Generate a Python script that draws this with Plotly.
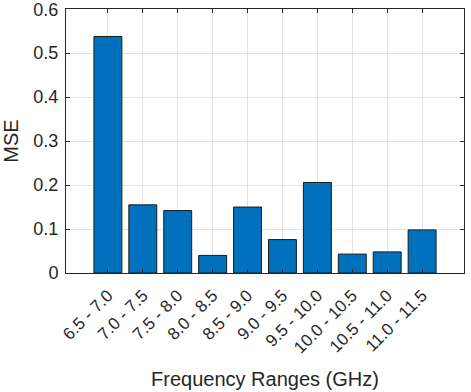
import plotly.graph_objects as go

categories = ["6.5 - 7.0", "7.0 - 7.5", "7.5 - 8.0", "8.0 - 8.5", "8.5 - 9.0",
              "9.0 - 9.5", "9.5 - 10.0", "10.0 - 10.5", "10.5 - 11.0", "11.0 - 11.5"]
mse = [0.538, 0.155, 0.142, 0.040, 0.150, 0.076, 0.206, 0.043, 0.048, 0.098]
y_ticks = [0, 0.1, 0.2, 0.3, 0.4, 0.5, 0.6]
y_ticklabels = ["0", "0.1", "0.2", "0.3", "0.4", "0.5", "0.6"]

fig = go.Figure(go.Bar(
    x=categories, y=mse, width=0.8,
    marker=dict(color="#0072BD", line=dict(color="#1a1a1a", width=1)),
))

axis_col = "#262626"
fig.update_layout(
    width=471, height=392,
    margin=dict(l=66, r=7, t=9, b=119),
    paper_bgcolor="white", plot_bgcolor="white",
    font=dict(family="Liberation Sans, Arial, sans-serif", color=axis_col, size=17),
    showlegend=False,
    xaxis=dict(
        type="category", range=[-1.2, 10.2], tickangle=-45, automargin=False,
        ticklabelstandoff=5,
        showgrid=True, gridcolor="#e3e3e3", gridwidth=1,
        showline=True, linecolor=axis_col, linewidth=1, mirror="ticks",
        ticks="inside", ticklen=4, tickcolor=axis_col,
        tickfont=dict(size=17),
        title=dict(text="Frequency Ranges (GHz)", font=dict(size=20)),
    ),
    yaxis=dict(
        range=[0, 0.6005], tickvals=y_ticks, ticktext=y_ticklabels, automargin=False,
        ticklabeloverflow="allow", ticklabelstandoff=3,
        showgrid=True, gridcolor="#e3e3e3", gridwidth=1,
        showline=True, linecolor=axis_col, linewidth=1, mirror="ticks",
        ticks="inside", ticklen=4, tickcolor=axis_col, zeroline=False,
        tickfont=dict(size=18),
        title=dict(text="MSE", font=dict(size=20)),
    ),
)
fig.write_html("out.html", config={"displayModeBar": False},
               post_script="document.body.style.margin='0';")
